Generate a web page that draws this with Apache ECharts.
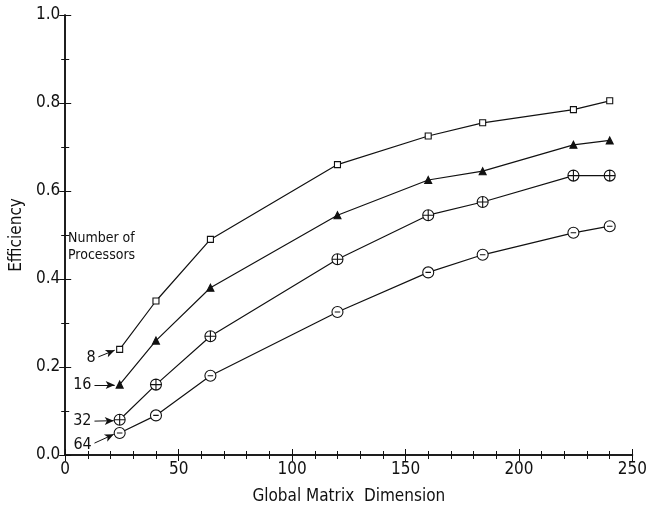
<!DOCTYPE html>
<html>
<head>
<meta charset="utf-8">
<script src="https://cdn.jsdelivr.net/npm/echarts@6/dist/echarts.min.js"></script>
<style>
    html, body { margin: 0; padding: 0; background: #fff; }
    #chart { width: 650px; height: 511px; }
</style>
</head>
<body>
<div id="chart"></div>
<script>
var dims = [24, 40, 64, 120, 160, 184, 224, 240];
var eff8 = [0.24, 0.35, 0.49, 0.66, 0.725, 0.755, 0.785, 0.805];
var eff16 = [0.16, 0.26, 0.38, 0.545, 0.625, 0.645, 0.705, 0.715];
var eff32 = [0.08, 0.16, 0.27, 0.445, 0.545, 0.575, 0.635, 0.635];
var eff64 = [0.05, 0.09, 0.18, 0.325, 0.415, 0.455, 0.505, 0.52];
var procNames = ["8", "16", "32", "64"];
// arrow start/end (data space) pointing at the first point of each curve
var arrowFrom = [[14.6, 0.223], [12.9, 0.159], [12.9, 0.077], [12.9, 0.027]];
var arrowTo = [[21.8, 0.238], [21.8, 0.159], [21.4, 0.078], [21.4, 0.047]];

var font = '"DejaVu Sans Condensed", "Liberation Sans", Arial, sans-serif';
var ink = "#111";

var symbols = [
    "rect",
    "triangle",
    "path://M0,10 A10,10 0 1 1 20,10 A10,10 0 1 1 0,10 Z M10,0 L10,20 M0,10 L20,10",
    "path://M0,10 A10,10 0 1 1 20,10 A10,10 0 1 1 0,10 Z M5,10 L15,10"
];
var symbolSizes = [6, 7, 11, 11];
var fills = ["#fff", ink, "#fff", "#fff"];

function pairs(vals){
    var out = [];
    for(var i = 0; i < dims.length; i++){
        out.push([dims[i], vals[i]]);
    }
    return out;
}

function makeSeries(idx, vals){
    return {
        type: "line",
        name: procNames[idx],
        data: pairs(vals),
        symbol: symbols[idx],
        symbolSize: symbolSizes[idx],
        showAllSymbol: true,
        lineStyle: { color: ink, width: 1.2 },
        itemStyle: { color: fills[idx], borderColor: ink, borderWidth: 1.1 },
        z: 3,
        markLine: {
            silent: true,
            symbol: ["none", "arrow"],
            symbolSize: [6, 9],
            lineStyle: { color: ink, width: 1, type: "solid" },
            label: {
                show: true,
                position: "start",
                formatter: procNames[idx],
                color: ink,
                fontFamily: font,
                fontSize: 16,
                distance: 3
            },
            data: [[{ coord: arrowFrom[idx] }, { coord: arrowTo[idx] }]]
        }
    };
}

var tickStyle = { show: true, inside: true, length: 6, lineStyle: { color: ink, width: 1 } };
var minorStyle = { show: true, splitNumber: 5, length: 4, lineStyle: { color: ink, width: 1 } };

var option = {
    animation: false,
    backgroundColor: "#fff",
    grid: { left: 63, right: 6, top: 15, bottom: 56 },
    xAxis: [{
        type: "value",
        min: 0,
        max: 250,
        interval: 50,
        name: "Global Matrix  Dimension",
        nameLocation: "middle",
        nameGap: 33,
        nameTextStyle: { color: ink, fontFamily: font, fontSize: 17 },
        axisLine: { lineStyle: { color: ink, width: 1.5 } },
        axisTick: tickStyle,
        minorTick: minorStyle,
        axisLabel: { color: ink, fontFamily: font, fontSize: 17, margin: 6 },
        splitLine: { show: false }
    }, {
        type: "value",
        position: "top",
        min: 0,
        max: 250,
        interval: 50,
        axisLine: { lineStyle: { color: ink, width: 1.5 } },
        axisTick: tickStyle,
        minorTick: minorStyle,
        axisLabel: { show: false },
        splitLine: { show: false }
    }],
    yAxis: [{
        type: "value",
        min: 0,
        max: 1,
        interval: 0.2,
        name: "Efficiency",
        nameLocation: "middle",
        nameGap: 38,
        nameTextStyle: { color: ink, fontFamily: font, fontSize: 17 },
        axisLine: { lineStyle: { color: ink, width: 1.5 } },
        axisTick: tickStyle,
        minorTick: { show: true, splitNumber: 2, length: 4, lineStyle: { color: ink, width: 1 } },
        axisLabel: {
            color: ink, fontFamily: font, fontSize: 17, margin: 5,
            formatter: function(v){ return v.toFixed(1); }
        },
        splitLine: { show: false }
    }, {
        type: "value",
        position: "right",
        min: 0,
        max: 1,
        interval: 0.2,
        axisLine: { lineStyle: { color: ink, width: 1.5 } },
        axisTick: tickStyle,
        minorTick: { show: true, splitNumber: 2, length: 4, lineStyle: { color: ink, width: 1 } },
        axisLabel: { show: false },
        splitLine: { show: false }
    }],
    graphic: [{
        type: "text",
        left: 68,
        top: 230,
        style: {
            text: "Number of\nProcessors",
            fill: ink,
            font: "14px " + font,
            lineHeight: 17
        }
    }],
    series: [
        makeSeries(0, eff8),
        makeSeries(1, eff16),
        makeSeries(2, eff32),
        makeSeries(3, eff64)
    ]
};

var myChart = echarts.init(document.getElementById("chart"));
myChart.setOption(option);
window.onresize = myChart.resize;
</script>
</body>
</html>
